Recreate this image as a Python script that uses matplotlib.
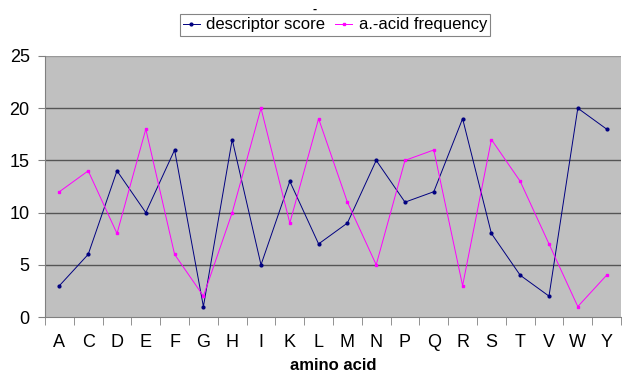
import numpy as np
import matplotlib.pyplot as plt

plt.rcParams['font.family'] = ['Liberation Sans', 'DejaVu Sans']

amino = ['A', 'C', 'D', 'E', 'F', 'G', 'H', 'I', 'K', 'L',
         'M', 'N', 'P', 'Q', 'R', 'S', 'T', 'V', 'W', 'Y']
descriptor = [3, 6, 14, 10, 16, 1, 17, 5, 13, 7, 9, 15, 11, 12, 19, 8, 4, 2, 20, 18]
frequency = [12, 14, 8, 18, 6, 2, 10, 20, 9, 19, 11, 5, 15, 16, 3, 17, 13, 7, 1, 4]

fig = plt.figure(figsize=(6.22, 3.78), dpi=100)
ax = fig.add_axes([45 / 622, 1 - 317 / 378, 576 / 622, 261 / 378])
ax.set_facecolor('#c0c0c0')

x = np.arange(len(amino))
ax.plot(x, descriptor, color='#000080', lw=0.7, marker='o', ms=2, label='descriptor score')
ax.plot(x, frequency, color='#ff00ff', lw=0.7, marker='s', ms=2, label='a.-acid frequency')

ax.set_xlim(-0.5, len(amino) - 0.5)
ax.set_ylim(0, 25)
ax.set_yticks([0, 5, 10, 15, 20, 25])
for v in [5, 10, 15, 20]:
    ax.axhline(v, color='#555555', lw=1, zorder=0)
ax.axhline(25, color='#999999', lw=1, zorder=0)

ax.set_xticks(x)
ax.set_xticklabels(amino)
ax.set_xticks(np.arange(-0.5, len(amino)), minor=True)
ax.tick_params(axis='x', which='major', length=0, pad=12, labelsize=13)
ax.tick_params(axis='x', which='minor', length=6, color='#808080', direction='out')
ax.tick_params(axis='y', length=5, color='#808080', labelsize=13, pad=6)

for s in ['top', 'right']:
    ax.spines[s].set_visible(False)
ax.spines['left'].set_color('#808080')
ax.spines['bottom'].set_color('#808080')

ax.set_xlabel('amino acid', fontweight='bold', fontsize=12, labelpad=5)

fig.text(315 / 622, 1 - 10 / 378, '-', ha='center', va='center', fontsize=9, fontweight='bold')
leg = fig.legend(loc='center', bbox_to_anchor=(335 / 622, 1 - 25 / 378), ncol=2,
                 frameon=True, fancybox=False, edgecolor='#666666', fontsize=12,
                 handlelength=1.0, handletextpad=0.4, columnspacing=0.6,
                 borderpad=0.2, borderaxespad=0)
leg.get_frame().set_linewidth(0.8)

fig.savefig('out.png', dpi=100)
